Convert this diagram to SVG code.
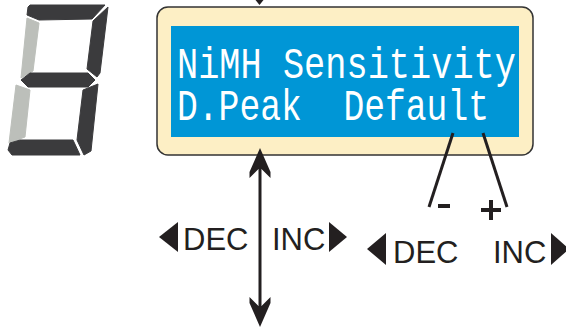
<svg xmlns="http://www.w3.org/2000/svg" width="566" height="329" viewBox="0 0 566 329">
<style>
.dk{fill:#3b3b3d;stroke:#3b3b3d;stroke-width:1;stroke-linejoin:round}
.lt{fill:#bcbfba;stroke:#bcbfba;stroke-width:1;stroke-linejoin:round}
.lcd{font-family:"Liberation Mono","DejaVu Sans Mono",monospace;font-size:45px;fill:#ffffff;white-space:pre}
.lbl{font-family:"Liberation Sans",Arial,sans-serif;font-size:31px;fill:#231f20}
.ink{fill:#231f20}
.ln{stroke:#231f20;stroke-width:3;fill:none}
</style>
<rect width="566" height="329" fill="#ffffff"/>
<g id="digit">
<polygon class="dk" points="28,7 30,5 105,5 92,19 39,20 27,15"/>
<polygon class="dk" points="108,7 100,73 97,77 87,69 93,21"/>
<polygon class="lt" points="27,18 39,23 33,71 21,78"/>
<polygon class="dk" points="21,80 30,73 88,73 95,80 88,87 28,87"/>
<polygon class="lt" points="16,85 30,90 25,137 9,143"/>
<polygon class="dk" points="98,84 91,151 84,155 77,140 83,90"/>
<polygon class="dk" points="10,143 20,140 73,140 80,155 12,155 8,150"/>
</g>
<g id="lcd">
<rect x="157" y="7" width="376" height="148" rx="11" fill="#fdefc5" stroke="#333333" stroke-width="1.5"/>
<rect x="171" y="26" width="348" height="111" fill="#0096d6"/>
<text class="lcd" x="177" y="78" textLength="339" lengthAdjust="spacingAndGlyphs">NiMH Sensitivity</text>
<text class="lcd" x="177" y="120" textLength="312" lengthAdjust="spacingAndGlyphs" xml:space="preserve">D.Peak  Default</text>
</g>
<g id="connectors">
<polygon class="ink" points="255.5,0 263.5,0 259.5,5"/>
<line class="ln" x1="260" y1="160" x2="260" y2="315" stroke-width="2.5"/>
<polygon class="ink" points="260,148 270.5,172 270.5,178 261.5,169 258.5,169 249.5,178 249.5,172"/>
<polygon class="ink" points="260,327 270.5,303 270.5,297 261.5,306 258.5,306 249.5,297 249.5,303"/>
<line class="ln" x1="453" y1="133" x2="429" y2="207"/>
<line class="ln" x1="483" y1="133" x2="507" y2="207"/>
</g>
<g id="left-controls">
<polygon class="ink" points="159,237 178,222 178,252"/>
<text class="lbl" x="183" y="250">DEC</text>
<text class="lbl" x="272" y="250">INC</text>
<polygon class="ink" points="329,222 347,237 329,252"/>
</g>
<g id="right-controls">
<rect class="ink" x="438" y="204" width="12" height="4"/>
<rect class="ink" x="481" y="208" width="20" height="4"/>
<rect class="ink" x="489" y="200" width="4" height="20"/>
<polygon class="ink" points="367,249 386,233 386,265"/>
<text class="lbl" x="393" y="263">DEC</text>
<text class="lbl" x="493" y="263">INC</text>
<polygon class="ink" points="551,233 569,249 551,265"/>
</g>
</svg>
